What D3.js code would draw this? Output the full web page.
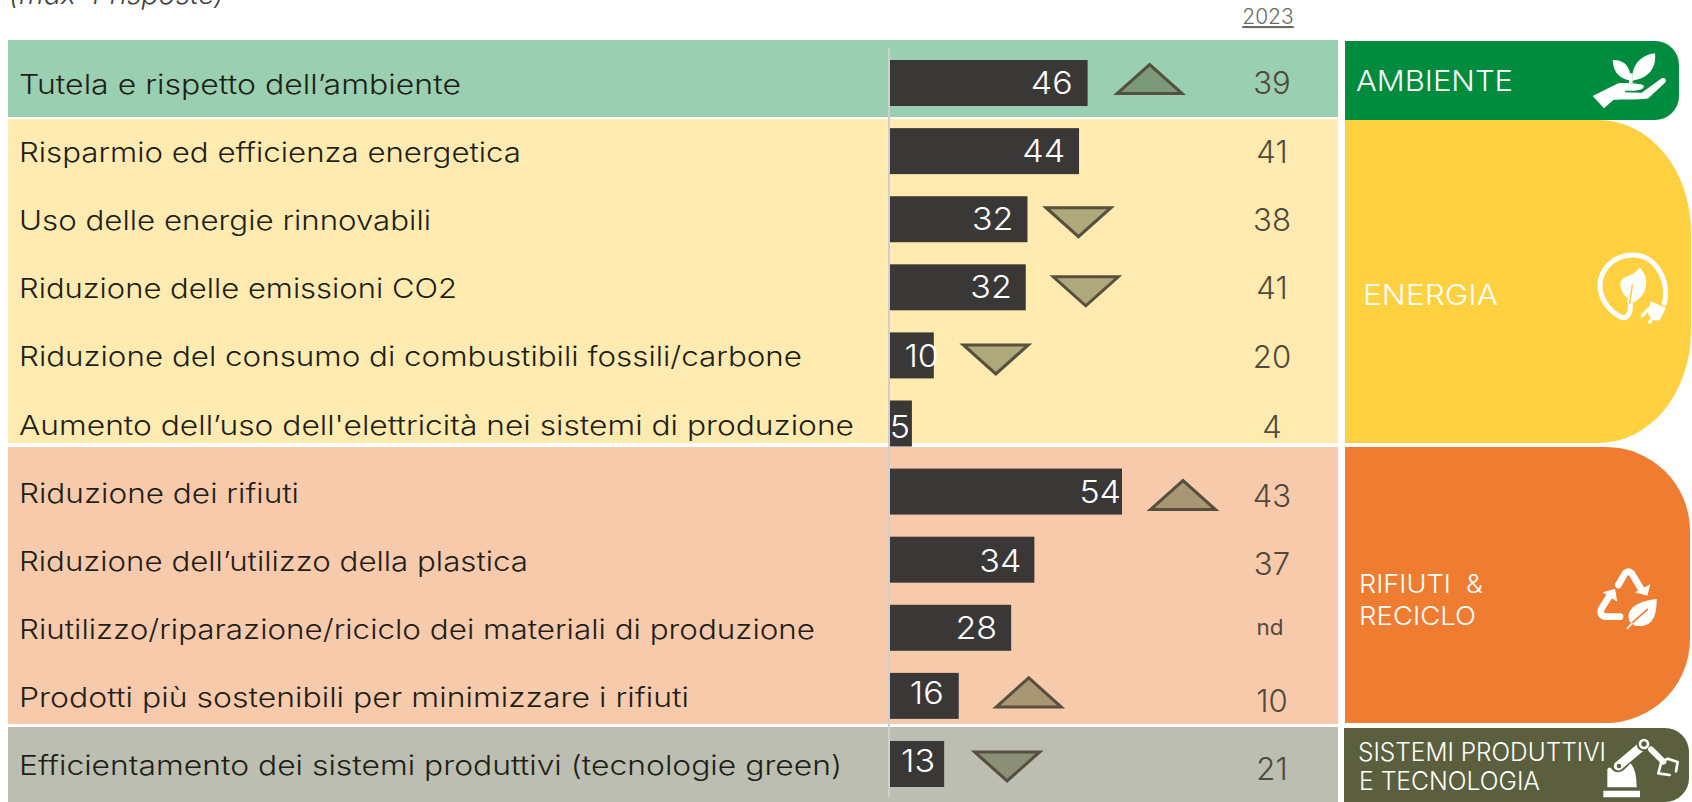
<!DOCTYPE html>
<html>
<head>
<meta charset="utf-8">
<script src="https://cdnjs.cloudflare.com/ajax/libs/d3/7.8.5/d3.min.js"></script>
<style>
  html, body { margin: 0; background: #fff; overflow: hidden; }
  text { font-family: Inter, "Open Sans", sans-serif; }
</style>
</head>
<body>
<div id="chart"></div>
<script>
const categories = [
  "Tutela e rispetto dell’ambiente",
  "Risparmio ed efficienza energetica",
  "Uso delle energie rinnovabili",
  "Riduzione delle emissioni CO2",
  "Riduzione del consumo di combustibili fossili/carbone",
  "Aumento dell’uso dell'elettricità nei sistemi di produzione",
  "Riduzione dei rifiuti",
  "Riduzione dell’utilizzo della plastica",
  "Riutilizzo/riparazione/riciclo dei materiali di produzione",
  "Prodotti più sostenibili per minimizzare i rifiuti",
  "Efficientamento dei sistemi produttivi (tecnologie green)",
];
const values2024 = [46, 44, 32, 31.6, 10.2, 5.1, 54, 33.6, 28.2, 16, 12.6];
const labels2024 = ["46", "44", "32", "32", "10", "5", "54", "34", "28", "16", "13"];
const labels2023 = ["39", "41", "38", "41", "20", "4", "43", "37", "nd", "10", "21"];
const trends = [1, 0, -1, -1, -1, 0, 1, 0, 0, 1, -1];

const sectionOf = [0, 1, 1, 1, 1, 1, 2, 2, 2, 2, 3];
const bandColors = ["#9ad0b1", "#ffebb0", "#f8caac", "#bbbeb0"];
const panelColors = ["#008c3e", "#ffd140", "#ee7d31", "#5b5f3d"];
const triangleColors = ["#7a9a7a", "#aea87a", "#a99673", "#8a8f78"];

const width = 1692, height = 802;
const svg = d3.select("#chart").append("svg").attr("width", width).attr("height", height);

// rows and bars
const y = d3.scaleBand().domain(categories).range([49, 798]).paddingInner(0.3245).paddingOuter(0.162);
const x = d3.scaleLinear().domain([0, 54]).range([890, 1122]);
const rowMid = (i) => y(categories[i]) + y.bandwidth() / 2;

// nudges to sit the labels and triangles where the original has them.
// Montserrat isn't available so text gets stretched to the original's widths
const labelWidths = [442, 502, 412, 438, 783, 835, 280, 509, 796, 670, 823];
const valueInset = [15, 14, 14, 14, -5, 2, 1, 13, 14, 15, 9];
const valueDrop = [11, 11, 11, 11, 12, 14, 11, 12, 11, 8, 8];
const prevDrop = [11, 12, 12, 12, 13, 14, 15, 15, 7, 16, 16];
const triangleGap = [62, 0, 51, 60, 62, 0, 61, 0, 0, 70, 63];
const triangleShift = [-4, 0, 3, 4, 4, 0, 3.5, 0, 0, -3.5, 2.5];

const bands = [[40, 117], [119, 443], [447, 724], [727, 802]];
svg.append("g").selectAll("rect").data(bands).join("rect")
  .attr("x", 8).attr("width", 1330)
  .attr("y", (d) => d[0])
  .attr("height", (d) => d[1] - d[0])
  .attr("fill", (d, i) => bandColors[i]);

// right hand panels, only the right corners are rounded
const panelPath = (x0, x1, y0, y1, rx, ry) =>
  `M${x0},${y0}H${x1 - rx}A${rx},${ry} 0 0 1 ${x1},${y0 + ry}V${y1 - ry}A${rx},${ry} 0 0 1 ${x1 - rx},${y1}H${x0}Z`;

const panels = [
  [1345, 1679, 41, 120, 24, 24],
  [1345, 1691, 120, 443, 92, 112],
  [1345, 1690, 447, 723, 84, 84],
  [1344, 1689, 728, 802, 24, 24],
];
svg.append("g").selectAll("path").data(panels).join("path")
  .attr("d", (d) => panelPath(...d))
  .attr("fill", (d, i) => panelColors[i]);

// row labels
svg.append("g").selectAll("text").data(categories).join("text")
  .attr("x", 19)
  .attr("y", (d, i) => rowMid(i) + 11)
  .attr("font-size", 27.5)
  .attr("font-weight", 300)
  .attr("fill", "#1f1f1a")
  .attr("textLength", (d, i) => labelWidths[i])
  .attr("lengthAdjust", "spacingAndGlyphs")
  .text((d) => d);

// bars
svg.append("g").selectAll("rect").data(values2024).join("rect")
  .attr("x", x(0))
  .attr("y", (d, i) => y(categories[i]))
  .attr("width", (d) => x(d) - x(0))
  .attr("height", y.bandwidth())
  .attr("fill", "#3a3837");

// axis line on top of the bars
svg.append("line")
  .attr("x1", 889).attr("x2", 889)
  .attr("y1", 48).attr("y2", 797)
  .attr("stroke", "#cfcfcf").attr("stroke-width", 2);

const stretchDigits = (k) => (sel) =>
  sel.attr("textLength", function () { return this.getComputedTextLength() * k; })
    .attr("lengthAdjust", "spacingAndGlyphs");

svg.append("g").selectAll("text").data(labels2024).join("text")
  .attr("x", (d, i) => x(values2024[i]) - valueInset[i])
  .attr("y", (d, i) => rowMid(i) + valueDrop[i])
  .attr("text-anchor", "end")
  .attr("font-size", 31.5)
  .attr("font-weight", 300)
  .attr("fill", "#fff")
  .text((d) => d)
  .call(stretchDigits(1.08));

// trend triangles
const triangle = d3.line();
svg.append("g").selectAll("path")
  .data(trends.map((t, i) => ({ t, i })).filter((d) => d.t !== 0))
  .join("path")
  .attr("d", (d) => {
    const cx = x(values2024[d.i]) + triangleGap[d.i];
    const cy = rowMid(d.i) + triangleShift[d.i];
    return triangle([[cx - 32.5, cy + d.t * 14.5], [cx + 32.5, cy + d.t * 14.5], [cx, cy - d.t * 14.5]]) + "Z";
  })
  .attr("fill", (d) => triangleColors[sectionOf[d.i]])
  .attr("stroke", "#574f3f")
  .attr("stroke-width", 3);

// 2023 column
svg.append("g").selectAll("text").data(labels2023).join("text")
  .attr("x", (d) => (d === "nd" ? 1270 : 1272))
  .attr("y", (d, i) => rowMid(i) + prevDrop[i])
  .attr("text-anchor", "middle")
  .attr("font-size", (d) => (d === "nd" ? 22 : 30.5))
  .attr("font-weight", (d) => (d === "nd" ? 400 : 300))
  .attr("fill", "#50493d")
  .text((d) => d)
  .call(stretchDigits(1.02));

// header bits
svg.append("text").attr("x", 1268).attr("y", 24).attr("text-anchor", "middle")
  .attr("font-size", 21).attr("font-weight", 300).attr("fill", "#6a6a5f")
  .attr("text-decoration", "underline").text("2023");
svg.append("text").attr("x", 9).attr("y", 4)
  .attr("font-size", 27).attr("font-weight", 300).attr("font-style", "italic")
  .attr("fill", "#444")
  .attr("textLength", 215).attr("lengthAdjust", "spacingAndGlyphs")
  .text("(max 4 risposte)");

// panel titles: text, x, baseline, size, width
const panelTitles = [
  ["AMBIENTE", 1356, 91, 29, 157],
  ["ENERGIA", 1363, 305, 29, 135],
  ["RIFIUTI  &", 1359, 593, 26, 124],
  ["RECICLO", 1359, 625, 26, 117],
  ["SISTEMI PRODUTTIVI", 1358, 761, 25, 248],
  ["E TECNOLOGIA", 1359, 790, 25, 181],
];
svg.append("g").selectAll("text").data(panelTitles).join("text")
  .attr("x", (d) => d[1]).attr("y", (d) => d[2])
  .attr("font-size", (d) => d[3])
  .attr("font-weight", 350)
  .attr("fill", "#fff")
  .attr("textLength", (d) => d[4])
  .attr("lengthAdjust", "spacingAndGlyphs")
  .style("white-space", "pre")
  .text((d) => d[0]);

// icons, traced at 3x from the original so each group is scaled back by 1/3
const W = "#fff";
const icons = [
  { at: [1580, 40], parts: [
    { d: "M98,60C130,60 152,75 152,122C120,116 100,100 98,60Z", fill: W },
    { d: "M225,40C230,85 205,115 158,122C152,80 180,45 225,40Z", fill: W },
    { d: "M147,100H158V130H147Z", fill: W },
    { d: "M38,168L115,130C125,127 180,130 190,135C195,145 185,155 135,152L135,157L185,158L245,115C255,110 262,120 255,128L205,175C195,180 110,178 100,180L72,205Z", fill: W },
  ] },
  { at: [1580, 240], parts: [
    { d: "M253,190C270,120 225,45 160,45C95,45 60,95 60,135C60,180 90,215 125,232C145,238 155,215 150,180", stroke: W, sw: 15 },
    { d: "M178,82C210,110 205,165 162,187C125,170 110,130 130,115C150,105 170,100 178,82Z", fill: W },
    { d: "M157,135L149,190", stroke: panelColors[1], sw: 5 },
    { d: "M212,184L258,203L241,238C225,248 205,235 204,212Z", fill: W },
    { d: "M205,208L187,227M224,228L209,246", stroke: W, sw: 10 },
  ] },
  { at: [1590, 555], parts: [
    { d: "M85,90L105,55Q115,45 125,55L155,105", stroke: W, sw: 20 },
    { d: "M181,88L172,122L135,112Z", fill: W },
    { d: "M90,185L50,185Q25,185 35,160L57,125", stroke: W, sw: 20 },
    { d: "M38,112L75,102L82,140Z", fill: W },
    { d: "M200,132C200,180 190,215 145,213C135,215 125,205 120,200C105,170 130,140 200,132Z", fill: W },
    { d: "M125,205L172,163", stroke: panelColors[2], sw: 5 },
    { d: "M112,220L126,205", stroke: W, sw: 5 },
  ] },
  { at: [1595, 730], parts: [
    { d: "M25,182H135V202H25Z", fill: W },
    { d: "M37,172V118Q42,105 55,122Q75,135 95,112L107,100Q125,120 125,172Z", fill: W },
    { d: "M70,108L145,45", stroke: W, sw: 27 },
    { d: "M72,108m-7,0a7,7 0 1 0 14,0a7,7 0 1 0 -14,0Z", fill: panelColors[3] },
    { d: "M147,42m-19,0a19,19 0 1 0 38,0a19,19 0 1 0 -38,0Z", fill: W, outline: panelColors[3] },
    { d: "M147,42m-8,0a8,8 0 1 0 16,0a8,8 0 1 0 -16,0Z", fill: panelColors[3] },
    { d: "M168,58L205,95", stroke: W, sw: 18 },
    { d: "M198,98L218,86L248,96L243,124", stroke: W, sw: 8 },
    { d: "M198,100L190,130L224,135", stroke: W, sw: 8 },
  ] },
];

const iconGroups = svg.append("g").selectAll("g").data(icons).join("g")
  .attr("transform", (d) => `translate(${d.at[0]},${d.at[1]}) scale(${1 / 3})`);
iconGroups.selectAll("path").data((d) => d.parts).join("path")
  .attr("d", (d) => d.d)
  .attr("fill", (d) => d.fill || "none")
  .attr("stroke", (d) => d.stroke || d.outline || "none")
  .attr("stroke-width", (d) => d.sw || (d.outline ? 6 : 0))
  .attr("stroke-linecap", "round")
  .attr("stroke-linejoin", "round");
</script>
</body>
</html>
